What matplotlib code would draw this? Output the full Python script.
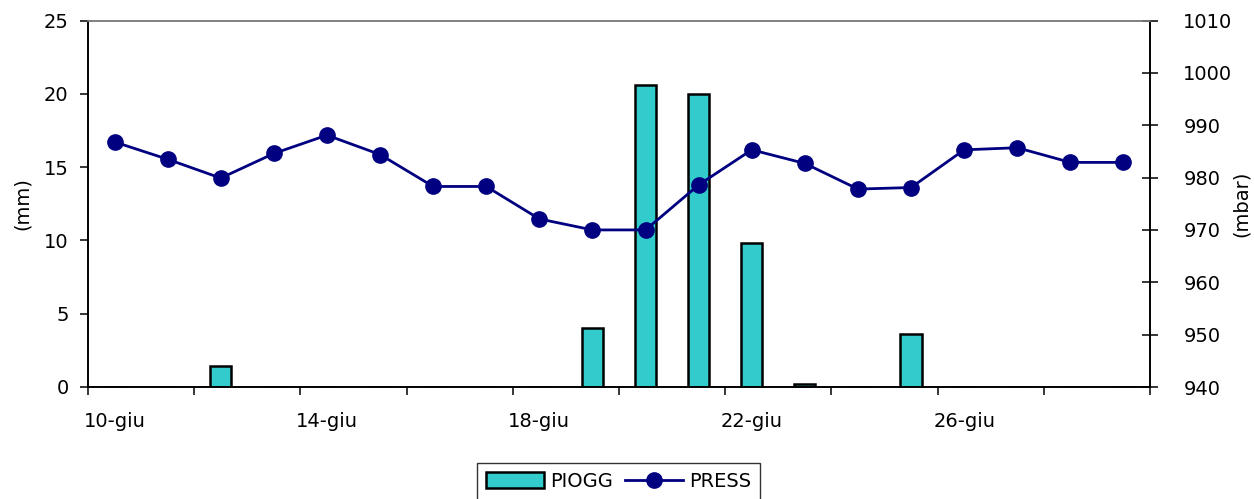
import matplotlib
matplotlib.use("Agg")
import matplotlib.pyplot as plt
import numpy as np

# Daily observations, 10 to 29 June
days = ["10-giu", "11-giu", "12-giu", "13-giu", "14-giu", "15-giu", "16-giu",
        "17-giu", "18-giu", "19-giu", "20-giu", "21-giu", "22-giu", "23-giu",
        "24-giu", "25-giu", "26-giu", "27-giu", "28-giu", "29-giu"]
piogg = [0, 0, 1.4, 0, 0, 0, 0, 0, 0, 4.0, 20.6, 20.0, 9.8, 0.2, 0, 3.6, 0, 0, 0, 0]
press = [986.8, 983.5, 979.9, 984.6, 988.1, 984.4, 978.3, 978.3, 972.1, 970.0,
         970.0, 978.6, 985.3, 982.7, 977.8, 978.1, 985.3, 985.7, 982.9, 982.9]

W, H = 1254, 499
fig = plt.figure(figsize=(W / 100, H / 100), dpi=100)
fig.patch.set_facecolor("white")

left, right, top, bottom = 88, 1150, 20.5, 387
ax = fig.add_axes([left / W, 1 - bottom / H, (right - left) / W, (bottom - top) / H])
ax2 = ax.twinx()

x = np.arange(len(days))
FS = 14

# Rain bars on the left axis
ax.bar(x, piogg, width=0.4, color="#33CCCC", edgecolor="black", linewidth=1.8,
       label="PIOGG", zorder=2)
ax.set_ylim(0, 25)
ax.set_yticks(np.arange(0, 26, 5))
ax.set_xlim(-0.5, len(days) - 0.5)

# Pressure line on the right axis
ax2.plot(x, press, color="#000080", linewidth=2.0, marker="o", markersize=11,
         label="PRESS", zorder=3)
ax2.set_ylim(940, 1010)
ax2.set_yticks(np.arange(940, 1011, 10))

# Category axis: ticks between every second day, labels every fourth day
ax.set_xticks(np.arange(-0.5, len(days), 2))
ax.set_xticklabels([])
ax.set_xticks(x[::4], minor=True)
ax.set_xticklabels([days[i] for i in x[::4]], minor=True)
ax.tick_params(axis="x", which="major", direction="out", length=6, width=1.1, color="black")
ax.tick_params(axis="x", which="minor", length=0, pad=18, labelsize=FS)

ax.tick_params(axis="y", direction="out", length=6, width=1.1, pad=8, labelsize=FS)
ax2.tick_params(axis="y", direction="inout", length=12, width=1.1, pad=18, labelsize=FS)

for a in (ax, ax2):
    for s in ("left", "right", "bottom"):
        a.spines[s].set_color("black")
        a.spines[s].set_linewidth(1.2)
    a.spines["top"].set_color("#808080")
    a.spines["top"].set_linewidth(1.2)

ax.set_ylabel("(mm)", fontsize=FS)
ax.yaxis.set_label_coords(-0.053, 0.5)
ax2.set_ylabel("(mbar)", fontsize=FS, rotation=90)
ax2.yaxis.set_label_coords(1.077, 0.5)

handles = [ax.containers[0], ax2.lines[0]]
leg = fig.legend(handles, ["PIOGG", "PRESS"], loc="upper center",
                 bbox_to_anchor=(618.5 / W, 1 - 463 / H), ncol=2, fontsize=FS,
                 frameon=True, fancybox=False, edgecolor="black",
                 handlelength=3.0, handleheight=0.85, handletextpad=0.3,
                 columnspacing=0.6, borderpad=0.45, borderaxespad=0)
leg.get_frame().set_linewidth(1.0)

fig.savefig("out.png", dpi=100, facecolor="white")
